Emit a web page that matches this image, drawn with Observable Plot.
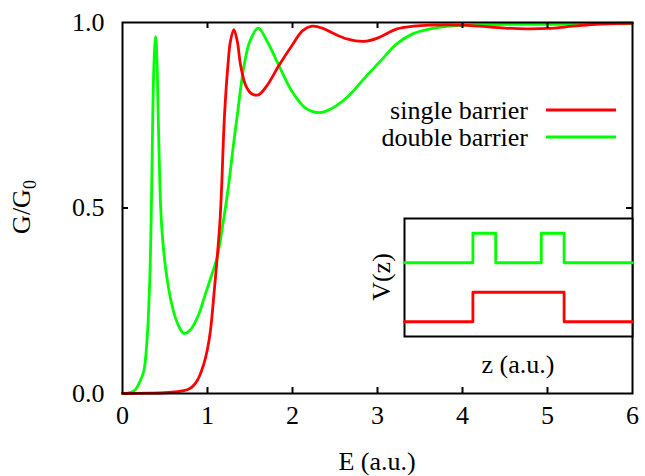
<!DOCTYPE html>
<html>
<head>
<meta charset="utf-8">
<script src="https://cdn.jsdelivr.net/npm/d3@7"></script>
<script src="https://cdn.jsdelivr.net/npm/@observablehq/plot@0.6"></script>
<style>
  body { margin: 0; background: #fff; }
  #chart { position: relative; width: 645px; height: 476px; }
  #chart svg { position: absolute; left: 0; top: 0; }
</style>
</head>
<body>
<div id="chart"></div>
<script>
// Conductance G/G0 versus energy E for a single and a double barrier
const singleE = [0, 0.3, 0.5, 0.65, 0.76, 0.82, 0.88, 0.957, 1.0, 1.035, 1.08, 1.114, 1.145, 1.165, 1.2, 1.24, 1.27, 1.31, 1.35, 1.39, 1.45, 1.52, 1.6, 1.7, 1.84, 2.0, 2.12, 2.23, 2.35, 2.45, 2.65, 2.84, 3.0, 3.23, 3.42, 3.62, 4.0, 4.2, 4.5, 4.76, 5.0, 5.3, 5.6, 6.0];
const singleG = [0, 0.001, 0.002, 0.005, 0.01, 0.018, 0.035, 0.08, 0.12, 0.17, 0.278, 0.367, 0.457, 0.55, 0.749, 0.884, 0.95, 0.981, 0.95, 0.884, 0.83, 0.808, 0.805, 0.83, 0.884, 0.94, 0.978, 0.99, 0.985, 0.974, 0.955, 0.949, 0.958, 0.983, 0.99, 0.993, 0.993, 0.99, 0.985, 0.983, 0.984, 0.99, 0.996, 0.998];

const doubleE = [0, 0.1, 0.15, 0.2, 0.25, 0.29, 0.32, 0.341, 0.356, 0.372, 0.39, 0.405, 0.42, 0.447, 0.467, 0.506, 0.57, 0.62, 0.67, 0.72, 0.8, 0.9, 0.957, 1.05, 1.114, 1.17, 1.24, 1.3, 1.35, 1.43, 1.5, 1.596, 1.7, 1.84, 2.0, 2.15, 2.31, 2.45, 2.65, 2.84, 3.05, 3.23, 3.42, 3.62, 3.85, 4.09, 4.5, 5.0, 5.5, 6.0];
const doubleG = [0, 0.003, 0.01, 0.03, 0.06, 0.15, 0.3, 0.52, 0.75, 0.9, 0.962, 0.9, 0.75, 0.515, 0.431, 0.34, 0.25, 0.206, 0.178, 0.162, 0.172, 0.215, 0.255, 0.32, 0.367, 0.44, 0.547, 0.66, 0.749, 0.884, 0.95, 0.985, 0.95, 0.884, 0.812, 0.77, 0.757, 0.767, 0.8, 0.848, 0.9, 0.943, 0.97, 0.983, 0.99, 0.993, 0.995, 0.995, 0.996, 0.997];

const xTicks = [0, 1, 2, 3, 4, 5, 6];
const yTicks = [0, 0.5, 1];

// Potential profiles V(z) for the inset (offset vertically for display)
const singleZ = [0, 3, 3, 7, 7, 10];
const singleV = [0.5, 0.5, 1.5, 1.5, 0.5, 0.5];
const doubleZ = [0, 3, 3, 4, 4, 6, 6, 7, 7, 10];
const doubleV = [2.5, 2.5, 3.5, 3.5, 2.5, 2.5, 3.5, 3.5, 2.5, 2.5];

const RED = "#ff0000";
const GREEN = "#00ff00";
const FONT = "Liberation Serif";

const W = 645, H = 476;
const mL = 122, mR = 13, mT = 22, mB = 83;
const innerW = W - mL - mR, innerH = H - mT - mB;

const singleRows = singleE.map((e, i) => ({E: e, G: singleG[i]}));
const doubleRows = doubleE.map((e, i) => ({E: e, G: doubleG[i]}));

const main = Plot.plot({
  width: W, height: H,
  marginLeft: mL, marginRight: mR, marginTop: mT, marginBottom: mB,
  style: {fontFamily: FONT, fontSize: "26px", background: "transparent", color: "black"},
  x: {domain: [0, 6]},
  y: {domain: [0, 1]},
  marks: [
    Plot.line(doubleRows, {x: "E", y: "G", stroke: GREEN, strokeWidth: 2.8, curve: "catmull-rom"}),
    Plot.line(singleRows, {x: "E", y: "G", stroke: RED, strokeWidth: 2.8, curve: "catmull-rom"}),
    // inward tick marks on all four sides
    Plot.ruleX(xTicks.slice(1, -1), {stroke: "black", strokeWidth: 2, insetTop: innerH - 6}),
    Plot.ruleX(xTicks.slice(1, -1), {stroke: "black", strokeWidth: 2, insetBottom: innerH - 6}),
    Plot.ruleY(yTicks.slice(1, -1), {stroke: "black", strokeWidth: 2, insetRight: innerW - 6}),
    Plot.ruleY(yTicks.slice(1, -1), {stroke: "black", strokeWidth: 2, insetLeft: innerW - 6}),
    Plot.axisX(xTicks, {tickSize: 0, tickPadding: 12, tickFormat: d3.format("d"), label: null}),
    Plot.axisY(yTicks, {tickSize: 0, tickPadding: 18, tickFormat: d3.format(".1f"), label: null}),
    Plot.frame({stroke: "black", strokeWidth: 2})
  ]
});

const inset = Plot.plot({
  width: W, height: H,
  marginLeft: 404, marginRight: 13, marginTop: 218, marginBottom: 140,
  style: {fontFamily: FONT, fontSize: "26px", background: "transparent", color: "black"},
  x: {domain: [0, 10], axis: null},
  y: {domain: [0, 4], axis: null},
  marks: [
    Plot.frame({fill: "white", stroke: "black", strokeWidth: 2}),
    Plot.line(doubleZ.map((z, i) => ({z, v: doubleV[i]})), {x: "z", y: "v", stroke: GREEN, strokeWidth: 2.8}),
    Plot.line(singleZ.map((z, i) => ({z, v: singleV[i]})), {x: "z", y: "v", stroke: RED, strokeWidth: 2.8})
  ]
});

const chart = document.getElementById("chart");
chart.appendChild(main);
chart.appendChild(inset);

// Axis titles and legend
const svg = d3.select(main);
const ylab = svg.append("text")
  .attr("transform", "translate(30,207) rotate(-90)")
  .attr("text-anchor", "middle")
  .attr("font-family", FONT).attr("font-size", 26).attr("fill", "black");
ylab.append("tspan").text("G/G");
ylab.append("tspan").attr("font-size", 18).attr("dy", 6).text("0");

svg.append("text")
  .attr("x", 377).attr("y", 470)
  .attr("text-anchor", "middle")
  .attr("font-family", FONT).attr("font-size", 26).attr("fill", "black")
  .text("E (a.u.)");

const legend = [
  {label: "single barrier", color: RED, y: 110},
  {label: "double barrier", color: GREEN, y: 137}
];
for (const d of legend) {
  svg.append("text")
    .attr("x", 528).attr("y", d.y + 9)
    .attr("text-anchor", "end")
    .attr("font-family", FONT).attr("font-size", 26).attr("fill", "black")
    .text(d.label);
  svg.append("line")
    .attr("x1", 546).attr("x2", 616).attr("y1", d.y).attr("y2", d.y)
    .attr("stroke", d.color).attr("stroke-width", 2.8);
}

const isvg = d3.select(inset);
isvg.append("text")
  .attr("transform", "translate(390,277) rotate(-90)")
  .attr("text-anchor", "middle")
  .attr("font-family", FONT).attr("font-size", 26).attr("fill", "black")
  .text("V(z)");
isvg.append("text")
  .attr("x", 518).attr("y", 373)
  .attr("text-anchor", "middle")
  .attr("font-family", FONT).attr("font-size", 26).attr("fill", "black")
  .text("z (a.u.)");
</script>
</body>
</html>
